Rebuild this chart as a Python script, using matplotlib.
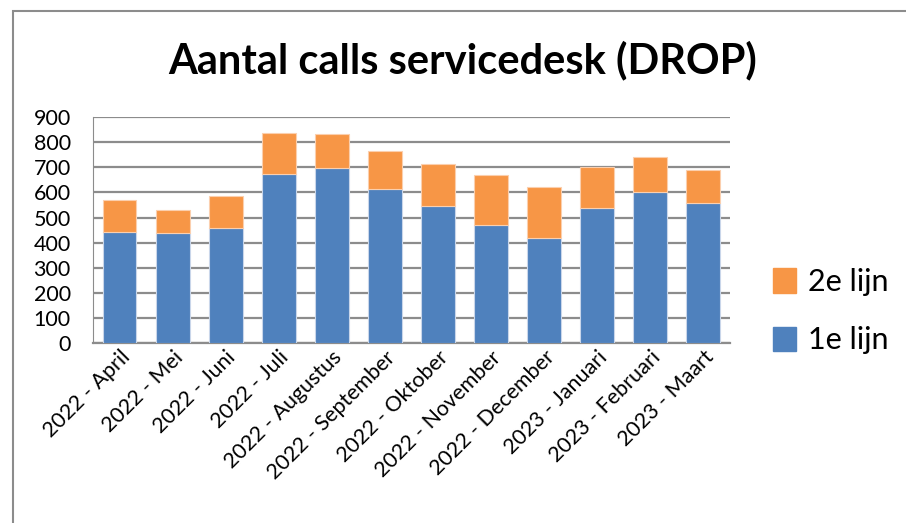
import matplotlib.pyplot as plt
from matplotlib.patches import Rectangle, Patch

months = ["2022 - April", "2022 - Mei", "2022 - Juni", "2022 - Juli", "2022 - Augustus",
          "2022 - September", "2022 - Oktober", "2022 - November", "2022 - December",
          "2023 - Januari", "2023 - Februari", "2023 - Maart"]
eerste_lijn = [443, 437, 457, 675, 697, 613, 547, 471, 419, 539, 602, 558]
totaal = [569, 529, 586, 838, 831, 764, 715, 671, 620, 700, 741, 688]
tweede_lijn = [t - e for t, e in zip(totaal, eerste_lijn)]

blue = "#4F81BD"
orange = "#F79646"
grid_grey = "#8C8C8C"

plt.rcParams['font.family'] = ['Lato', 'DejaVu Sans']

fig = plt.figure(figsize=(9.06, 5.23), dpi=100)
ax = fig.add_axes([0.1026, 0.344, 0.7031, 0.432])

x = range(len(months))
ax.bar(x, eerste_lijn, width=0.64, color=blue, edgecolor="#C9D6EA", linewidth=0.8, zorder=3)
ax.bar(x, tweede_lijn, bottom=eerste_lijn, width=0.64, color=orange,
       edgecolor="#FBCFAE", linewidth=0.8, zorder=3)

ax.set_xlim(-0.5, len(months) - 0.5)
ax.set_ylim(0, 900)
ax.set_yticks(range(0, 901, 100))
ax.yaxis.grid(True, color=grid_grey, linewidth=1.6, zorder=0)
ax.set_axisbelow(True)
for side in ["top", "right"]:
    ax.spines[side].set_visible(False)
ax.spines["left"].set_color(grid_grey)
ax.spines["bottom"].set_color(grid_grey)
ax.spines["bottom"].set_linewidth(1.6)
ax.tick_params(axis="y", labelsize=15.5, length=0, pad=16)
ax.tick_params(axis="x", length=0, labelsize=15.5, pad=3)
ax.set_xticks(list(x))
ax.set_xticklabels(months, rotation=45, ha="right", rotation_mode="anchor")

fig.text(0.511, 0.885, "Aantal calls servicedesk (DROP)", ha="center", va="center",
         fontsize=30, fontweight="bold")

handles = [Patch(color=orange, label="2e lijn"), Patch(color=blue, label="1e lijn")]
fig.legend(handles=handles, loc="center left", bbox_to_anchor=(0.853, 0.405),
           frameon=False, fontsize=22, handlelength=0.75, handleheight=0.85,
           handletextpad=0.4, labelspacing=1.0, borderpad=0, borderaxespad=0)

# outer chart frame
fig.patches.append(Rectangle((13 / 906, -0.05), 1.2, 1 - 11 / 523 + 0.05,
                             transform=fig.transFigure, fill=False,
                             edgecolor="#8C8C8C", linewidth=1.5))

fig.savefig("out.png", dpi=100)
